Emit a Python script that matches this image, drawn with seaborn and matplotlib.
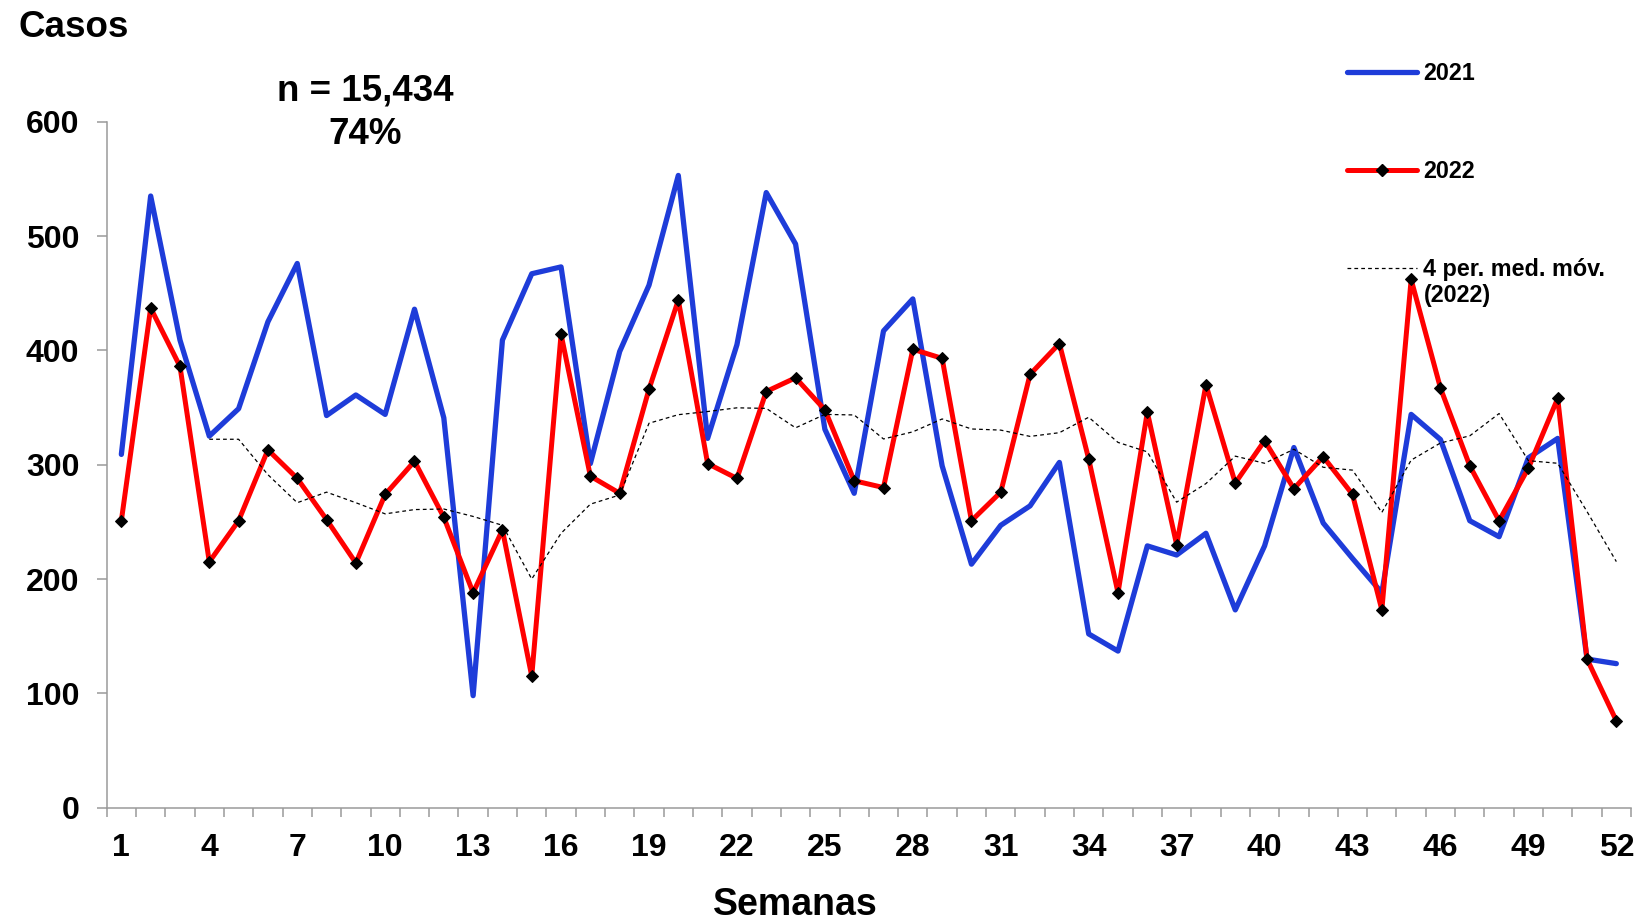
import numpy as np
import pandas as pd
import seaborn as sns
import matplotlib.pyplot as plt
from matplotlib.lines import Line2D

# ---------------- data ----------------
weeks = list(range(1, 53))
casos_2021 = [309, 535, 409, 325, 349, 425, 476, 343, 361, 344,
              436, 341, 98, 409, 467, 473, 301, 399, 457, 553,
              323, 405, 538, 493, 331, 275, 417, 445, 299, 213,
              247, 264, 302, 152, 137, 229, 221, 240, 173, 229,
              315, 249, 218, 188, 344, 322, 251, 237, 306, 323,
              130, 126]
casos_2022 = [251, 437, 386, 215, 251, 313, 288, 252, 214, 274,
              303, 254, 188, 243, 115, 414, 290, 275, 366, 444,
              301, 288, 364, 376, 348, 286, 280, 401, 393, 251,
              276, 379, 406, 305, 188, 346, 230, 370, 284, 321,
              279, 307, 274, 173, 462, 367, 299, 251, 297, 358,
              130, 76]
x_tick_values = list(range(1, 53, 3))
x_tick_labels = [str(v) for v in x_tick_values]
y_tick_values = [0, 100, 200, 300, 400, 500, 600]
legend_labels = ["2021", "2022", "4 per. med. móv."]
legend_label_extra = "(2022)"
title_text = "Casos"
n_text = "n = 15,434"
pct_text = "74%"
xlabel_text = "Semanas"

BLUE = "#1e3cd9"
RED = "#ff0000"
GRAY = "#9a9a9a"

# ---------------- style ----------------
sns.set_style("white")
plt.rcParams["font.family"] = ["Liberation Sans", "DejaVu Sans"]
plt.rcParams["font.weight"] = "bold"
plt.rcParams["text.color"] = "black"
plt.rcParams["xtick.labelcolor"] = "black"
plt.rcParams["ytick.labelcolor"] = "black"

W, H = 1648, 924
fig = plt.figure(figsize=(W / 100, H / 100), dpi=100)
ax = fig.add_axes([106.7 / W, 1 - 807.7 / H, (1631 - 106.7) / W, (807.7 - 121.7) / H])

df = pd.DataFrame({"Semana": weeks, "c2021": casos_2021, "c2022": casos_2022})
df["mm4"] = df["c2022"].rolling(4).mean()

sns.lineplot(data=df, x="Semana", y="c2021", ax=ax, color=BLUE, linewidth=3.8,
             solid_capstyle="round", solid_joinstyle="round", legend=False, zorder=3)
sns.lineplot(data=df, x="Semana", y="c2022", ax=ax, color=RED, linewidth=3.6,
             marker="D", markersize=6, markerfacecolor="black", markeredgecolor="black",
             solid_capstyle="round", solid_joinstyle="round", legend=False, zorder=4)
sns.lineplot(data=df.dropna(), x="Semana", y="mm4", ax=ax, color="black", linewidth=0.9,
             linestyle=(0, (3, 2.5)), legend=False, zorder=5)

# ---------------- axes ----------------
ax.set_xlim(0.5, 52.5)
ax.set_ylim(0, 600)
ax.set_xticks(x_tick_values)
ax.set_xticklabels(x_tick_labels)
ax.set_xticks(np.arange(0.5, 53, 1), minor=True)
ax.set_yticks(y_tick_values)
ax.set_xlabel("")
ax.set_ylabel("")

ax.tick_params(axis="x", which="major", bottom=True, length=0, pad=18.5, labelsize=23,
               labelcolor="black")
ax.tick_params(axis="x", which="minor", bottom=True, length=6.5, width=1.1, color=GRAY)
ax.tick_params(axis="y", which="major", left=True, length=7.2, width=1.1, color=GRAY,
               pad=12.5, labelsize=23, labelcolor="black")
for lab in ax.get_xticklabels() + ax.get_yticklabels():
    lab.set_fontweight("bold")

for s in ["top", "right"]:
    ax.spines[s].set_visible(False)
for s in ["left", "bottom"]:
    ax.spines[s].set_color(GRAY)
    ax.spines[s].set_linewidth(1.1)
ax.grid(False)

# ---------------- legend ----------------
handles = [
    Line2D([], [], color=BLUE, linewidth=3.8, solid_capstyle="round"),
    Line2D([], [], color=RED, linewidth=3.6, marker="D", markersize=6,
           markerfacecolor="black", markeredgecolor="black", solid_capstyle="round"),
    Line2D([], [], color="black", linewidth=0.9, linestyle=(0, (3, 2.5))),
]
leg = ax.legend(handles, legend_labels, loc="upper left",
                bbox_to_anchor=(1347 / W, 1 - 62.5 / H), bbox_transform=fig.transFigure,
                frameon=False, fontsize=16.8, handlelength=3.0, handletextpad=0.25,
                labelspacing=3.2, borderpad=0, borderaxespad=0)
for t in leg.get_texts():
    t.set_fontweight("bold")
    t.set_color("black")
fig.text(1424 / W, 1 - 302 / H, legend_label_extra, fontsize=16.8, fontweight="bold",
         ha="left", va="baseline", color="black")

# ---------------- texts ----------------
fig.text(18 / W, 1 - 37 / H, title_text, fontsize=26.5, fontweight="bold",
         ha="left", va="baseline", color="black")
fig.text(365 / W, 1 - 100 / H, n_text, fontsize=26.5, fontweight="bold",
         ha="center", va="baseline", color="black")
fig.text(365 / W, 1 - 144 / H, pct_text, fontsize=26.5, fontweight="bold",
         ha="center", va="baseline", color="black")
fig.text(795 / W, 1 - 915 / H, xlabel_text, fontsize=27, fontweight="bold",
         ha="center", va="baseline", color="black")

fig.savefig("out.png", dpi=100)
